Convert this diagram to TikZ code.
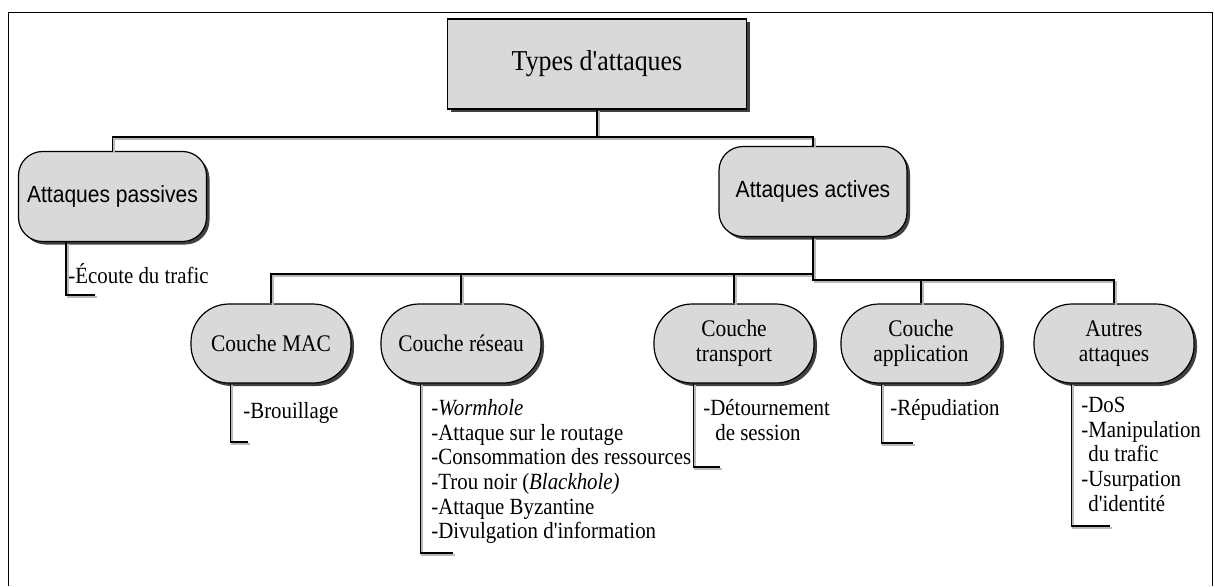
\documentclass[tikz,border=0pt]{standalone}
\usepackage{fontspec}
\setmainfont{Liberation Serif}[Ligatures=TeXOff,FakeStretch=0.9]
\newfontfamily\arialfont{Liberation Sans}[Ligatures=TeXOff,FakeStretch=0.9]
\usetikzlibrary{shadows}
\tikzset{
boite/.style={draw=black,line width=.6pt,fill=gray!30,drop shadow={shadow xshift=1.5pt,shadow yshift=-1.5pt,fill=black!75,opacity=1},align=center,inner sep=0pt},
titre/.style={boite,minimum width=149.5pt,minimum height=45pt,font=\fontsize{14.4}{16}\selectfont},
genre/.style={boite,rounded corners=12pt,minimum width=94pt,minimum height=45pt,font=\arialfont\fontsize{11.7}{13}\selectfont},
couche/.style={boite,rounded corners=19pt,minimum width=80pt,minimum height=39.5pt,font=\fontsize{11.9}{12.5}\selectfont},
feuille/.style={anchor=north west,inner sep=0pt,align=left,font=\fontsize{11.6}{12.3}\selectfont},
lien/.style={line width=.7pt},
ombre/.style={line width=1pt,gray!55,transform canvas={shift={(.8pt,-.8pt)}}}}
\begin{document}
\begin{tikzpicture}[x=.5pt,y=-.5pt]
\useasboundingbox(0,0)rectangle(1215,586);
\draw(8,586)--(8,12)--(1212,12)--(1212,586);
\node[titre](types)at(597,64){Types d'attaques};
\node[genre](passives)at(112.5,196.5){Attaques passives};
\node[genre](actives)at(813,191.5){Attaques actives};
\node[couche](mac)at(271,343.5){Couche MAC};
\node[couche](reseau)at(461,343.5){Couche réseau};
\node[couche](transport)at(734,343.5){Couche\\transport};
\node[couche](application)at(921,343.5){Couche\\application};
\node[couche](autres)at(1114,343.5){Autres\\attaques};
\coordinate(b1)at(597,137);\coordinate(b2)at(813,274);\coordinate(b3)at(813,280);
\coordinate(fpas)at(95,295);\coordinate(fmac)at(248,442);\coordinate(fres)at(453,553);
\coordinate(ftra)at(720,467);\coordinate(fapp)at(913,443);\coordinate(faut)at(1110,526);
\foreach \st in {ombre,lien}{
\draw[\st](types.south)--(b1)-|(passives.north);\draw[\st](b1)-|(actives.north);
\draw[\st](actives.south)--(b2)-|(mac.north);\draw[\st](b2)-|(reseau.north);\draw[\st](b2)-|(transport.north);
\draw[\st](b2)--(b3)-|(application.north);\draw[\st](b3)-|(autres.north);
\draw[\st]([xshift=24pt]passives.south west)|-(fpas);\draw[\st]([xshift=20pt]mac.south west)|-(fmac);
\draw[\st]([xshift=20pt]reseau.south west)|-(fres);\draw[\st]([xshift=20pt]transport.south west)|-(ftra);
\draw[\st]([xshift=20.5pt]application.south west)|-(fapp);\draw[\st]([xshift=19pt]autres.south west)|-(faut);}
\node[feuille](ecoute)at(68,263){\strut-Écoute du trafic};
\node[feuille](brouillage)at(243,401){\strut-Brouillage};
\node[feuille](attres)at(431,398){\strut-\textit{Wormhole}\\-Attaque sur le routage\\-Consommation des ressources\\-Trou noir (\textit{Blackhole)}\\-Attaque Byzantine\\-Divulgation d'information};
\node[feuille](atttra)at(703,398){\strut-Détournement\\\hspace*{6pt}de session};
\node[feuille](attapp)at(890,398){\strut-Répudiation};
\node[feuille](attaut)at(1081,395){\strut-DoS\\-Manipulation\\\phantom{-}du trafic\\-Usurpation\\\phantom{-}d'identité};
\end{tikzpicture}
\end{document}
